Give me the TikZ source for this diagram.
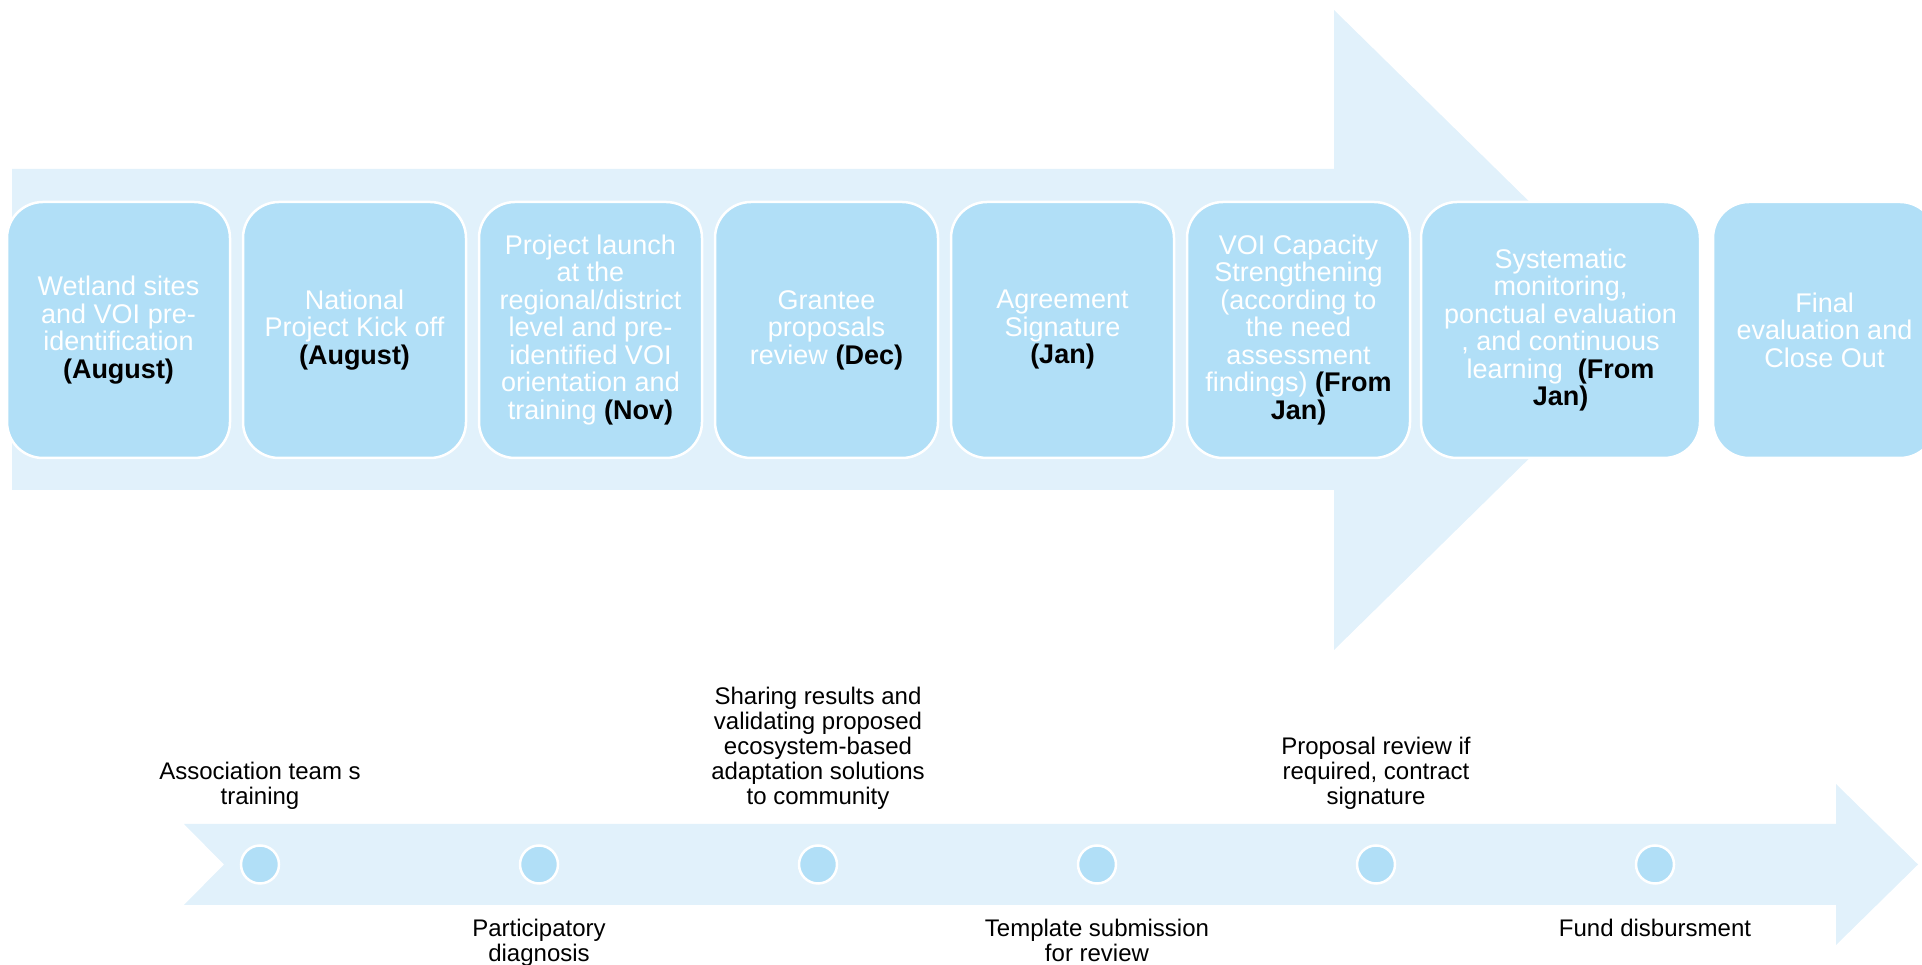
\documentclass[tikz,border=0pt]{standalone}
\usepackage{fontspec}
\setmainfont{Liberation Sans}
\definecolor{arrowblue}{RGB}{225, 241, 251}
\definecolor{stageblue}{RGB}{177, 223, 247}
\usetikzlibrary{positioning}

\begin{document}
\begin{tikzpicture}[x=1pt, y=1pt,
  stagebox/.style={draw=white, line width=2.5pt, fill=stageblue, rounded corners=36pt, minimum width=223pt, minimum height=256pt, inner sep=4pt, align=center, text=white, font=\fontsize{27}{27.5}\selectfont},
  miledot/.style={circle, draw=white, line width=2.5pt, fill=stageblue, minimum size=38pt, inner sep=0pt},
  milelabel/.style={align=center, inner sep=0pt, font=\fontsize{24}{25}\selectfont}]
  \useasboundingbox (0,0) rectangle (1922,965);

  % Big arrow behind the stages
  \fill[arrowblue] (12,796) -- (1334,796) -- (1334,955) -- (1660,635) -- (1334,315) -- (1334,475) -- (12,475) -- cycle;

  % Stages
  \node[stagebox] (s1) at (118.5,635) {
    Wetland sites\\and VOI pre-\\identification\\\textbf{\textcolor{black}{(August)}}
  };
  \node[stagebox] (s2) at (354.5,635) {
    National\\Project Kick off\\\textbf{\textcolor{black}{(August)}}
  };
  \node[stagebox] (s3) at (590.5,635) {
    Project launch\\at the\\regional/district\\level and pre-\\identified VOI\\orientation and\\training \textbf{\textcolor{black}{(Nov)}}
  };
  \node[stagebox] (s4) at (826.5,635) {
    Grantee\\proposals\\review \textbf{\textcolor{black}{(Dec)}}
  };
  \node[stagebox] (s5) at (1062.5,635) {
    Agreement\\Signature\\\textbf{\textcolor{black}{(Jan)}}
  };
  \node[stagebox] (s6) at (1298.5,635) {
    VOI Capacity\\Strengthening\\(according to\\the need\\assessment\\findings) \textbf{\textcolor{black}{(From}}\\\textbf{\textcolor{black}{Jan)}}
  };
  \node[stagebox, minimum width=279pt] (s7) at (1560.5,635) {
    Systematic\\monitoring,\\ponctual evaluation\\, and continuous\\learning~ \textbf{\textcolor{black}{(From}}\\\textbf{\textcolor{black}{Jan)}}
  };
  \node[stagebox] (s8) at (1824.5,635) {
    Final\\evaluation and\\Close Out
  };

  % Lower arrow with milestones
  \fill[arrowblue] (184,141) -- (1836,141) -- (1836,181) -- (1918,100.5) -- (1836,20) -- (1836,60) -- (184,60) -- (224,100.5) -- cycle;

  \node[miledot] (d1) at (260,100.5) {};
  \node[miledot] (d2) at (539,100.5) {};
  \node[miledot] (d3) at (818,100.5) {};
  \node[miledot] (d4) at (1097,100.5) {};
  \node[miledot] (d5) at (1376,100.5) {};
  \node[miledot] (d6) at (1655,100.5) {};

  % Milestone labels, alternating above and below
  \node[milelabel, above=35pt of d1] (m1) {Association team s\\training};
  \node[milelabel, below=34pt of d2] (m2) {Participatory\\diagnosis};
  \node[milelabel, above=35pt of d3] (m3) {Sharing results and\\validating proposed\\ecosystem-based\\adaptation solutions\\to community};
  \node[milelabel, below=34pt of d4] (m4) {Template submission\\for review};
  \node[milelabel, above=35pt of d5] (m5) {Proposal review if\\required, contract\\signature};
  \node[milelabel, below=34pt of d6] (m6) {Fund disbursment};
\end{tikzpicture}
\end{document}
